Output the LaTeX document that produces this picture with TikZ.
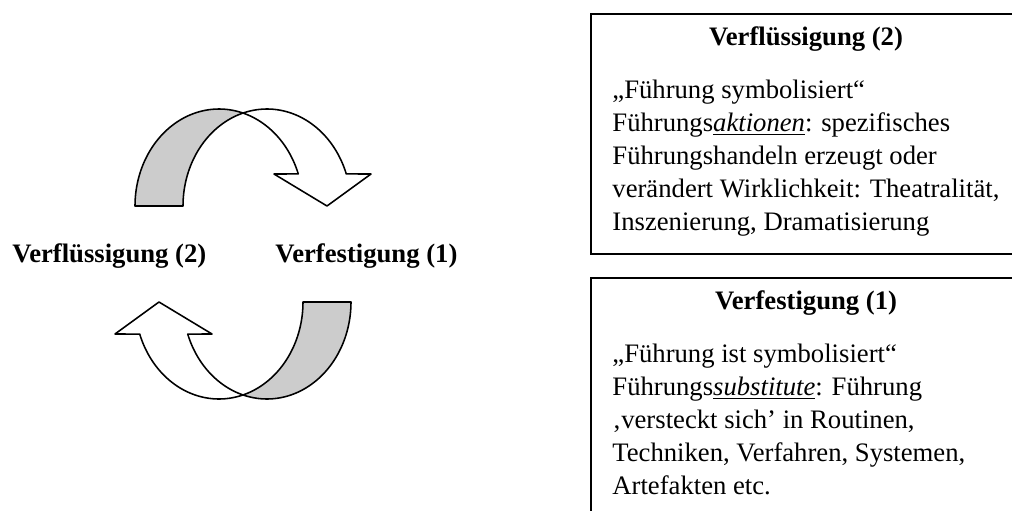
\documentclass[12pt,tikz,border=0pt]{standalone}
\usepackage{fontspec}
\setmainfont{Liberation Serif}
\newlength\pxu
\setlength\pxu{0.45pt}
\definecolor{shade}{RGB}{204,204,204}
\tikzset{
  band/.style={draw=black, line width=0.7pt, line join=round},
  tailfill/.style={band, fill=shade},
  headfill/.style={band, fill=white},
  frame/.style={draw=black, line width=0.9pt, inner sep=0pt, minimum width=430\pxu},
  ttl/.style={font=\fontsize{12}{13.8}\selectfont\bfseries, anchor=base, inner sep=0pt},
  bodytext/.style={anchor=base west, inner sep=0pt, font=\fontsize{12}{13.8}\selectfont},
  lbl/.style={font=\fontsize{12}{13.8}\selectfont\bfseries, anchor=base west, inner sep=0pt}
}
\newcommand{\ul}[1]{\underline{\textit{#1}}}
\begin{document}
\begin{tikzpicture}[x=\pxu,y=-\pxu]
\useasboundingbox (0,0) rectangle (1012,511);
\clip (0,0) rectangle (1012,511);
% curved arrows (top one, and its point reflection below)
\foreach \r in {0,180}{
\begin{scope}[rotate around={\r:(243,254)}]
  \draw[tailfill] plot[domain=180:73.4, samples=60] ({219+84*cos(\x)},{206-97*sin(\x)})
    -- plot[domain=106.6:180, samples=40] ({267+84*cos(\x)},{206-97*sin(\x)}) -- cycle;
  \draw[headfill] plot[domain=106.6:19.3, samples=60] ({267+84*cos(\x)},{206-97*sin(\x)})
    -- (371,174) -- (327,206) -- (274,174)
    -- plot[domain=19.3:73.4, samples=40] ({219+84*cos(\x)},{206-97*sin(\x)}) -- cycle;
\end{scope}
}
% labels
\node[lbl] (lflu) at (12,262) {Verflüssigung (2)};
\node[lbl] (lfest) at (275,262) {Verfestigung (1)};
% boxes
\node[frame, minimum height=240\pxu] (box1) at (806,134) {};
\node[frame, minimum height=252\pxu] (box2) at (806,404) {};
\node[ttl] (t1) at (806,45) {Verflüssigung (2)};
\node[ttl] (t2) at (806,309) {Verfestigung (1)};
\foreach \t [count=\i] in {{„Führung symbolisiert“},
  {Führungs\ul{aktionen}: spezifisches},
  {Führungshandeln erzeugt oder},
  {verändert Wirklichkeit: Theatralität,},
  {Inszenierung, Dramatisierung}}
  \node[bodytext] (a\i) at (612,{98+33*(\i-1)}) {\t};
\foreach \t [count=\i] in {{„Führung ist symbolisiert“},
  {Führungs\ul{substitute}: Führung},
  {‚versteckt sich’ in Routinen,},
  {Techniken, Verfahren, Systemen,},
  {Artefakten etc.}}
  \node[bodytext] (b\i) at (612,{362+33*(\i-1)}) {\t};
\end{tikzpicture}
\end{document}
